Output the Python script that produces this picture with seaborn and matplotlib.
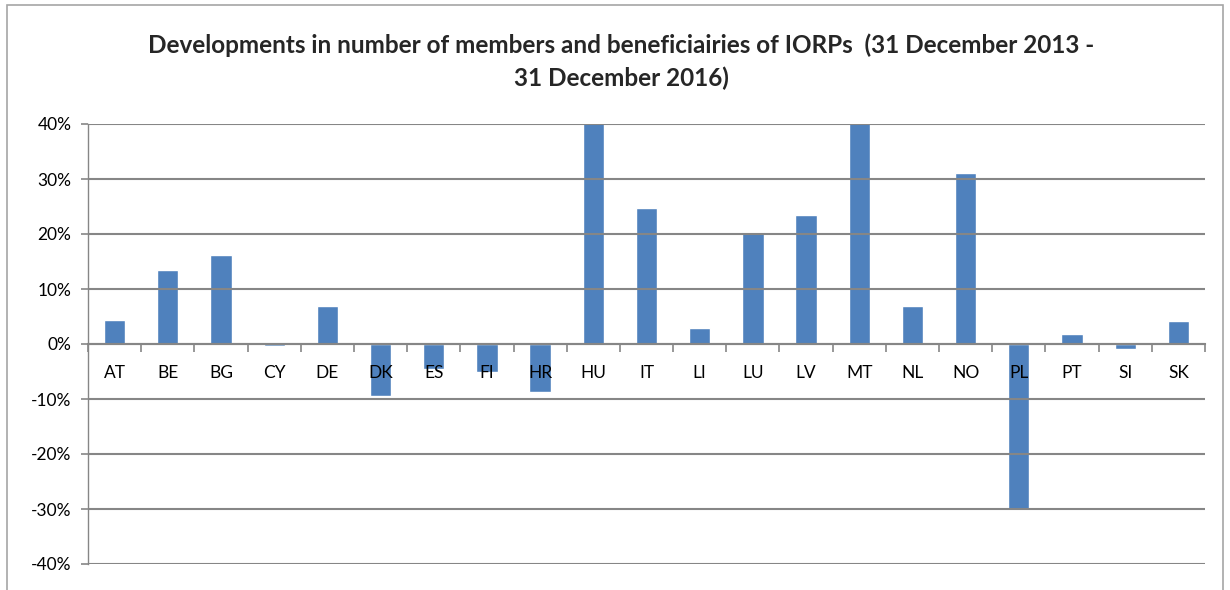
import matplotlib
matplotlib.use("Agg")
import matplotlib.pyplot as plt
import seaborn as sns
import pandas as pd
from matplotlib.patches import Rectangle
from matplotlib.ticker import PercentFormatter, FixedLocator

# data (share change, %)
countries = ['AT', 'BE', 'BG', 'CY', 'DE', 'DK', 'ES', 'FI', 'HR', 'HU', 'IT',
             'LI', 'LU', 'LV', 'MT', 'NL', 'NO', 'PL', 'PT', 'SI', 'SK']
change = [4.4, 13.5, 16.1, -0.3, 6.9, -9.5, -4.5, -5.0, -8.7, 45.0, 24.7,
          2.9, 20.4, 23.4, 45.0, 6.9, 31.1, -30.0, 1.8, -0.9, 4.2]
y_ticks = [-40, -30, -20, -10, 0, 10, 20, 30, 40]

df = pd.DataFrame({'country': countries, 'change': change})

sns.set_theme(style="white")
plt.rcParams['font.family'] = ['Lato', 'DejaVu Sans']
plt.rcParams['axes.unicode_minus'] = False

grey = '#868686'
bar_color = '#4F81BD'

fig = plt.figure(figsize=(12.3, 5.9), dpi=100)
ax = fig.add_axes([88 / 1230, 1 - 564 / 590, (1205 - 88) / 1230, (564 - 124) / 590])

sns.barplot(data=df, x='country', y='change', color=bar_color, width=0.4,
            saturation=1, ax=ax, zorder=2)

ax.set_ylim(-40, 40)
ax.set_xlim(-0.5, len(countries) - 0.5)
ax.yaxis.set_major_locator(FixedLocator(y_ticks))
ax.yaxis.set_major_formatter(PercentFormatter(decimals=0))
ax.yaxis.grid(True, color=grey, linewidth=1.5)
ax.set_axisbelow(False)  # category labels sit on top of the bars
ax.set_xlabel('')
ax.set_ylabel('')

# spines like the spreadsheet chart: axis line crosses at zero
ax.spines['top'].set_visible(False)
ax.spines['right'].set_visible(False)
ax.spines['left'].set_color(grey)
ax.spines['left'].set_linewidth(1.0)
ax.spines['bottom'].set_position(('data', 0))
ax.spines['bottom'].set_color(grey)
ax.spines['bottom'].set_linewidth(1.5)

ax.set_xticks([i + 0.5 for i in range(-1, len(countries))], minor=True)
ax.tick_params(axis='x', which='major', length=0, pad=15, labelsize=12.5, colors='black')
ax.tick_params(axis='x', which='minor', length=6, width=1.2, color=grey, direction='out', bottom=True)
ax.tick_params(axis='y', length=5, width=1.2, color=grey, labelsize=12.5, pad=7,
               left=True, labelcolor='black')

fig.suptitle('Developments in number of members and beneficiairies of IORPs  (31 December 2013 -\n31 December 2016)',
             fontsize=17.5, fontweight='bold', x=0.505, y=0.943, linespacing=1.5)

# chart-area border
fig.patches.append(Rectangle((0.006, -0.1), 0.988, 1.092, transform=fig.transFigure,
                             fill=False, edgecolor='#a6a6a6', linewidth=1.2))

plt.savefig('out.png', dpi=100)
plt.close()
